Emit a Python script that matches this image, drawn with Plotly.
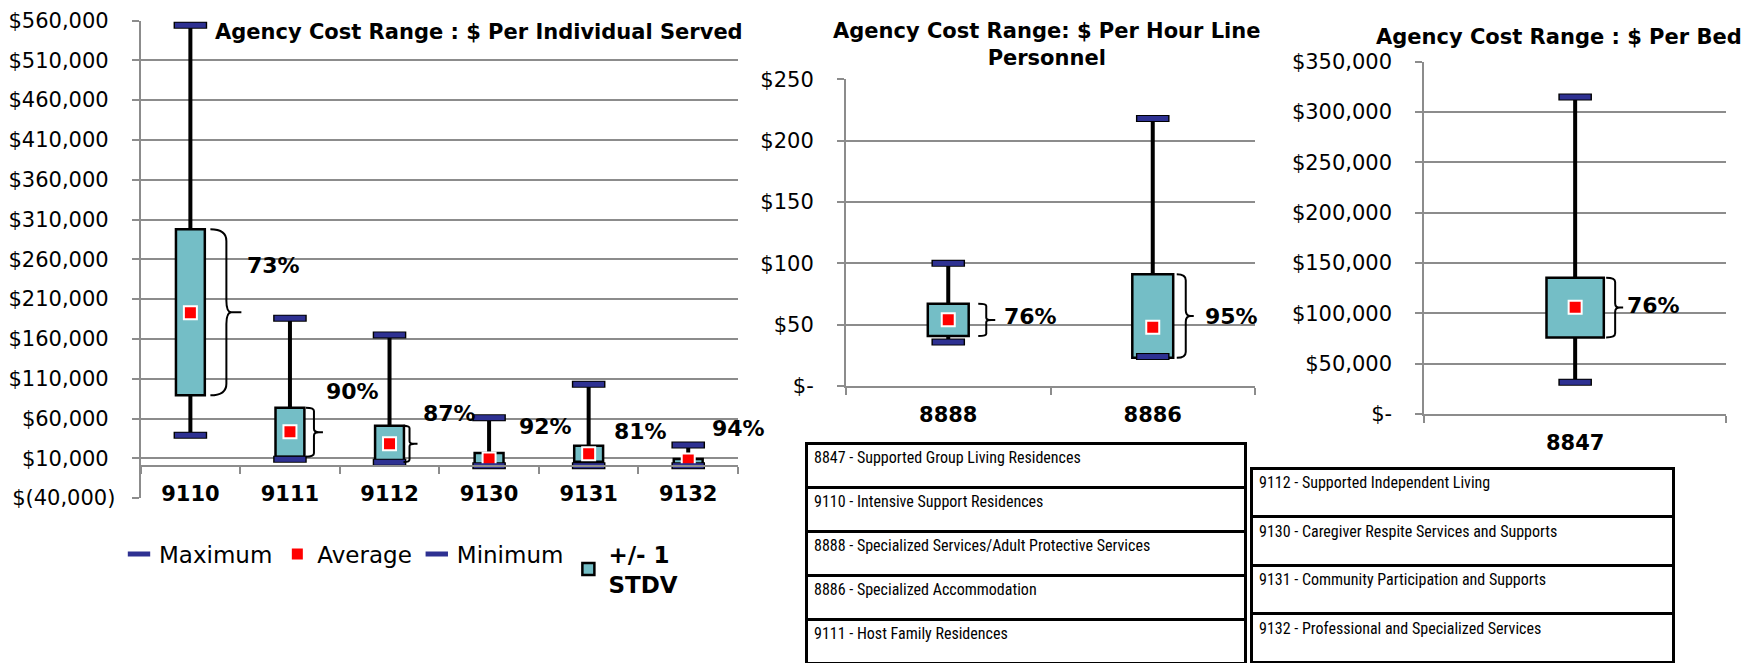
import plotly.graph_objects as go

W, H = 1762, 663
OFF = 8  # the page keeps the browser's default 8px body margin
WF, HF = W - OFF, H - OFF

# $ per individual served
ind_codes = ["9110", "9111", "9112", "9130", "9131", "9132"]
ind_max = [554000, 186000, 165000, 61000, 103000, 26700]
ind_hi = [297700, 73600, 51000, 16600, 25800, 9100]
ind_avg = [192900, 43400, 28300, 9100, 15800, 7900]
ind_lo = [89100, 12000, 5400, 1200, 5700, 700]
ind_min = [38900, 8700, 5000, 700, 700, 700]
ind_pct = ["73%", "90%", "87%", "92%", "81%", "94%"]

# $ per hour line personnel
hr_codes = ["8888", "8886"]
hr_max = [100, 218]
hr_hi = [67, 91]
hr_avg = [54.1, 47.8]
hr_lo = [40.7, 23]
hr_min = [35.8, 24]
hr_pct = ["76%", "95%"]

# $ per bed
bed_codes = ["8847"]
bed_max = [314900]
bed_hi = [135400]
bed_avg = [106000]
bed_lo = [76100]
bed_min = [31500]
bed_pct = ["76%"]

table_left = ["8847 - Supported Group Living Residences",
              "9110 - Intensive Support Residences",
              "8888 - Specialized Services/Adult Protective Services",
              "8886 - Specialized Accommodation",
              "9111 - Host Family Residences"]
table_right = ["9112 - Supported Independent Living",
               "9130 - Caregiver Respite Services and Supports",
               "9131 - Community Participation and Supports",
               "9132 - Professional and Specialized Services"]

TEAL = "#74BEC6"
NAVY = "#2E3192"
GRID = "#8c8c8c"
FONT = "DejaVu Sans"


def fx(px):
    return (px - OFF) / WF


def fy(py):
    return 1 - (py - OFF) / HF


def acct(v, pad=False):
    # accounting style: positives keep a space where the closing bracket would be
    if v == 0:
        return "$-"
    if v < 0:
        return "$({:,.0f})".format(-v)
    return "${:,.0f}".format(v) + ("\u00a0" if pad else "")


fig = go.Figure()


def add_panel(n, codes, vmax, vhi, vavg, vlo, vmin, boxw, legend):
    xa, ya = ("x", "y") if n == 1 else ("x%d" % n, "y%d" % n)
    wx, wy = [], []
    for c, mx, hi, lo, mn in zip(codes, vmax, vhi, vlo, vmin):
        wx += [c, c, None, c, c, None]
        wy += [mx, hi, None, lo, mn, None]
    fig.add_trace(go.Scatter(x=wx, y=wy, mode="lines", xaxis=xa, yaxis=ya,
                             line=dict(color="black", width=4),
                             showlegend=False, hoverinfo="skip"))
    fig.add_trace(go.Scatter(x=codes + codes, y=vmax + vmin, mode="markers",
                             xaxis=xa, yaxis=ya, showlegend=False, hoverinfo="skip",
                             marker=dict(symbol="line-ew", size=24,
                                         line=dict(color="black", width=7))))
    fig.add_trace(go.Scatter(x=codes, y=vmax, mode="markers", name="Maximum",
                             xaxis=xa, yaxis=ya, showlegend=legend,
                             marker=dict(symbol="line-ew", size=22, color=NAVY,
                                         line=dict(color=NAVY, width=5))))
    fig.add_trace(go.Scatter(x=codes, y=vavg, mode="markers", name="Average",
                             xaxis=xa, yaxis=ya, showlegend=legend,
                             marker=dict(symbol="square", size=13, color="#ff0000",
                                         line=dict(color="white", width=2))))
    fig.add_trace(go.Scatter(x=codes, y=vmin, mode="markers", name="Minimum",
                             xaxis=xa, yaxis=ya, showlegend=legend,
                             marker=dict(symbol="line-ew", size=22, color=NAVY,
                                         line=dict(color=NAVY, width=5))))
    fig.add_trace(go.Bar(x=codes, base=vlo, y=[h - l for h, l in zip(vhi, vlo)],
                         width=boxw, name="<b>+/- 1<br>STDV</b>",
                         xaxis=xa, yaxis=ya, showlegend=legend,
                         marker=dict(color=TEAL, line=dict(color="black", width=2.5))))


add_panel(1, ind_codes, ind_max, ind_hi, ind_avg, ind_lo, ind_min, 0.29, True)
add_panel(2, hr_codes, hr_max, hr_hi, hr_avg, hr_lo, hr_min, 0.2, False)
add_panel(3, bed_codes, bed_max, bed_hi, bed_avg, bed_lo, bed_min, 0.19, False)

# description tables
cell_style = dict(align="left", fill_color="white",
                  line=dict(color="black", width=3),
                  font=dict(family="Roboto Condensed, DejaVu Sans Condensed, Liberation Sans Narrow",
                            size=16, color="black"))
fig.add_trace(go.Table(domain=dict(x=[fx(806), fx(1245)], y=[0, fy(443)]),
                       header=dict(values=[table_left[0]], height=44, **cell_style),
                       cells=dict(values=[table_left[1:]], height=44, **cell_style)))
fig.add_trace(go.Table(domain=dict(x=[fx(1251), fx(1673)], y=[0, fy(468)]),
                       header=dict(values=[table_right[0]], height=48.6, **cell_style),
                       cells=dict(values=[table_right[1:]], height=48.6, **cell_style)))

# panel geometry (pixels in the reference picture)
panels = {
    1: dict(x=(140.6, 738), y=(20.5, 498.1), rng=(-40000, 560000), step=50000, pad=True, so=12),
    2: dict(x=(846, 1255), y=(79.3, 386), rng=(0, 250), step=50, pad=False, so=19),
    3: dict(x=(1424.3, 1726), y=(61.7, 414), rng=(0, 350000), step=50000, pad=False, so=19),
}
ncat = {1: len(ind_codes), 2: len(hr_codes), 3: len(bed_codes)}

axis_common = dict(showline=True, linecolor=GRID, linewidth=2, ticks="outside",
                   ticklen=7, tickcolor=GRID, tickwidth=2, automargin=False,
                   tickfont=dict(family=FONT, size=21, color="black"))

for n, p in panels.items():
    sfx = "" if n == 1 else str(n)
    lo, hi = p["rng"]
    vals = list(range(lo, hi + 1, p["step"]))
    ydom = [fy(p["y"][1]), fy(p["y"][0])]
    fig.layout["yaxis" + sfx] = dict(
        domain=ydom, range=[lo, hi], anchor="x" + sfx,
        tickvals=vals, ticktext=[acct(v, p["pad"]) for v in vals],
        showgrid=True, gridcolor=GRID, gridwidth=1.5, zeroline=False,
        ticklabelstandoff=p["so"], **axis_common)
    xax = dict(domain=[fx(p["x"][0]), fx(p["x"][1])], type="category",
               range=[-0.5, ncat[n] - 0.5], tickson="boundaries", showgrid=False,
               anchor="y" + sfx, ticklabelstandoff=9, **axis_common)
    xax["tickfont"] = dict(family=FONT, size=21, color="black", weight="bold")
    if n == 1:
        # category axis crosses the value axis at zero
        zero_pos = ydom[0] + (0 - lo) / (hi - lo) * (ydom[1] - ydom[0])
        xax.update(anchor="free", position=zero_pos)
    fig.layout["xaxis" + sfx] = xax

# braces and percentage labels
def brace(n, idx, top, bot, a, s, t):
    sfx = "" if n == 1 else str(n)
    r = (top - bot) * 0.07
    ym = (top + bot) / 2
    path = ("M{a:.1f},{top:.2f} Q{s:.1f},{top:.2f} {s:.1f},{t1:.2f} L{s:.1f},{m1:.2f} "
            "Q{s:.1f},{ym:.2f} {s5:.1f},{ym:.2f} L{t:.1f},{ym:.2f} "
            "M{s5:.1f},{ym:.2f} Q{s:.1f},{ym:.2f} {s:.1f},{m2:.2f} L{s:.1f},{b1:.2f} "
            "Q{s:.1f},{bot:.2f} {a:.1f},{bot:.2f}").format(
        a=a, s=s, s5=s + 5, t=t, top=top, bot=bot, ym=ym,
        t1=top - r, m1=ym + r, m2=ym - r, b1=bot + r)
    fig.add_shape(type="path", xref="x" + sfx, yref="y" + sfx, xsizemode="pixel",
                  xanchor=idx, path=path, line=dict(color="black", width=2))


brace_offsets = {  # arm, spine, tip in pixels from category centre
    1: [(20, 36, 51), (16, 24, 33), (14, 20, 28)],
    2: [(30, 38, 47), (24, 33, 41)],
    3: [(31, 40, 48)],
}
panel_data = {1: (ind_hi, ind_lo, ind_pct),
              2: (hr_hi, hr_lo, hr_pct),
              3: (bed_hi, bed_lo, bed_pct)}
label_pos = {  # x shift (px), y (data)
    1: [(83, 252000), (63, 94500), (60, 66500), (56, 49700), (52, 44300), (50, 47700)],
    2: [(82, 56.8), (79, 56.8)],
    3: [(78, 107300)],
}
for n, (vhi, vlo, pct) in panel_data.items():
    sfx = "" if n == 1 else str(n)
    for i, off in enumerate(brace_offsets[n]):
        brace(n, i, vhi[i], vlo[i], *off)
    for i, (txt, (dx, yv)) in enumerate(zip(pct, label_pos[n])):
        fig.add_annotation(x=i, y=yv, xref="x" + sfx, yref="y" + sfx, text="<b>%s</b>" % txt,
                           xshift=dx, showarrow=False,
                           font=dict(family=FONT, size=22, color="black"))

# titles
title_font = dict(family=FONT, size=21, color="black", weight="bold")
fig.add_annotation(text="Agency Cost Range : $ Per Individual Served", xref="paper", yref="paper",
                   x=fx(213), y=fy(32), xanchor="left", yanchor="middle",
                   showarrow=False, font=title_font)
fig.add_annotation(text="Agency Cost Range: $ Per Hour Line<br>Personnel", xref="paper", yref="paper",
                   x=fx(1047), y=fy(44.5), xanchor="center", yanchor="middle",
                   showarrow=False, font=title_font)
fig.add_annotation(text="Agency Cost Range : $ Per Bed", xref="paper", yref="paper",
                   x=fx(1559), y=fy(37), xanchor="center", yanchor="middle",
                   showarrow=False, font=title_font)

fig.update_layout(
    width=WF, height=HF, margin=dict(l=0, r=0, t=0, b=0, autoexpand=False),
    paper_bgcolor="white", plot_bgcolor="white",
    font=dict(family=FONT, color="black"),
    barmode="overlay",
    showlegend=True,
    legend=dict(orientation="h", x=fx(119), y=fy(569), xanchor="left", yanchor="middle",
                font=dict(family=FONT, size=23, color="black"), bgcolor="rgba(0,0,0,0)"),
)

fig.write_html("out.html")
